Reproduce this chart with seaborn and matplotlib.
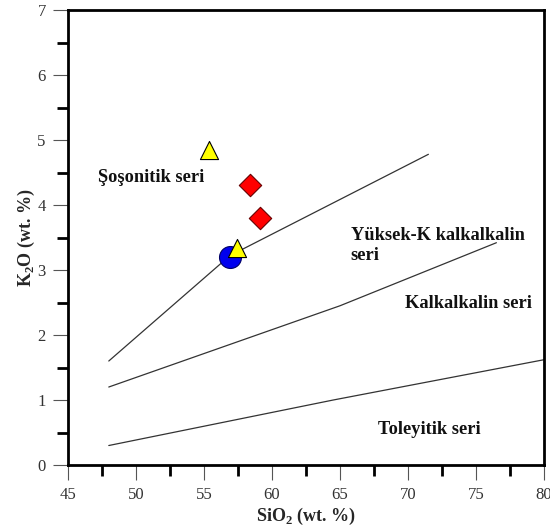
import matplotlib
matplotlib.use("Agg")
import matplotlib.pyplot as plt
import seaborn as sns
from matplotlib.ticker import MultipleLocator

# Boundary lines of the K2O vs SiO2 series diagram
sho_x = [48.0, 56.9, 71.5]
sho_y = [1.6, 3.22, 4.78]
hk_x = [48.0, 65.0, 76.5]
hk_y = [1.2, 2.45, 3.42]
th_x = [48.0, 64.5, 80.0]
th_y = [0.3, 1.0, 1.62]

# Sample analyses
circle_x = [56.9]
circle_y = [3.2]
diamond_x = [58.4, 59.1]
diamond_y = [4.31, 3.8]
triangle_x = [55.4, 57.45]
triangle_y = [4.85, 3.34]

# Field names
field_labels = ["Şoşonitik seri", "Yüksek-K kalkalkalin\nseri", "Kalkalkalin seri", "Toleyitik seri"]
field_x = [47.2, 65.8, 69.8, 67.8]
field_y = [4.42, 3.38, 2.49, 0.55]

x_ticks = [45, 50, 55, 60, 65, 70, 75, 80]
y_ticks = [0, 1, 2, 3, 4, 5, 6, 7]

sns.set_style("white")
plt.rcParams["font.family"] = ["Liberation Serif", "DejaVu Serif"]
plt.rcParams["mathtext.fontset"] = "custom"
plt.rcParams["mathtext.rm"] = "Liberation Serif"
plt.rcParams["mathtext.bf"] = "Liberation Serif:bold"

fig = plt.figure(figsize=(5.5, 5.32), dpi=100)
ax = fig.add_axes([0.1236, 0.1259, 0.8655, 0.8553])

for lx, ly in [(sho_x, sho_y), (hk_x, hk_y), (th_x, th_y)]:
    sns.lineplot(x=lx, y=ly, sort=False, color="#333333", linewidth=0.9, ax=ax, zorder=2)

sns.scatterplot(x=circle_x, y=circle_y, marker="o", s=250, color="#0000ee",
                edgecolor="#000066", linewidth=0.8, ax=ax, zorder=3)
sns.scatterplot(x=diamond_x, y=diamond_y, marker="D", s=130, color="#ff0000",
                edgecolor="#660000", linewidth=0.8, ax=ax, zorder=4)
sns.scatterplot(x=triangle_x, y=triangle_y, marker="^", s=170, color="#ffff00",
                edgecolor="#000000", linewidth=0.8, ax=ax, zorder=5)

for txt, tx, ty in zip(field_labels, field_x, field_y):
    ax.text(tx, ty, txt, ha="left", va="center", fontsize=13.2, fontweight="bold",
            linespacing=1.2, color="#111111", zorder=6)

ax.set_xlim(45, 80)
ax.set_ylim(0, 7)
ax.set_xticks(x_ticks)
ax.set_yticks(y_ticks)
ax.xaxis.set_minor_locator(MultipleLocator(2.5))
ax.yaxis.set_minor_locator(MultipleLocator(0.5))
ax.tick_params(which="major", direction="out", length=11, width=0.8, color="#555555",
               labelsize=12, labelcolor="#333333", pad=5, bottom=True, left=True)
ax.tick_params(which="minor", direction="out", length=8, width=2, color="black",
               bottom=True, left=True)

for sp in ax.spines.values():
    sp.set_linewidth(2)
    sp.set_color("black")

ax.set_xlabel(r"SiO$_\mathbf{2}$ (wt. %)", fontsize=13, fontweight="bold", labelpad=2)
ax.set_ylabel(r"K$_\mathbf{2}$O (wt. %)", fontsize=13, fontweight="bold", labelpad=0)

fig.savefig("out.png", dpi=100)
